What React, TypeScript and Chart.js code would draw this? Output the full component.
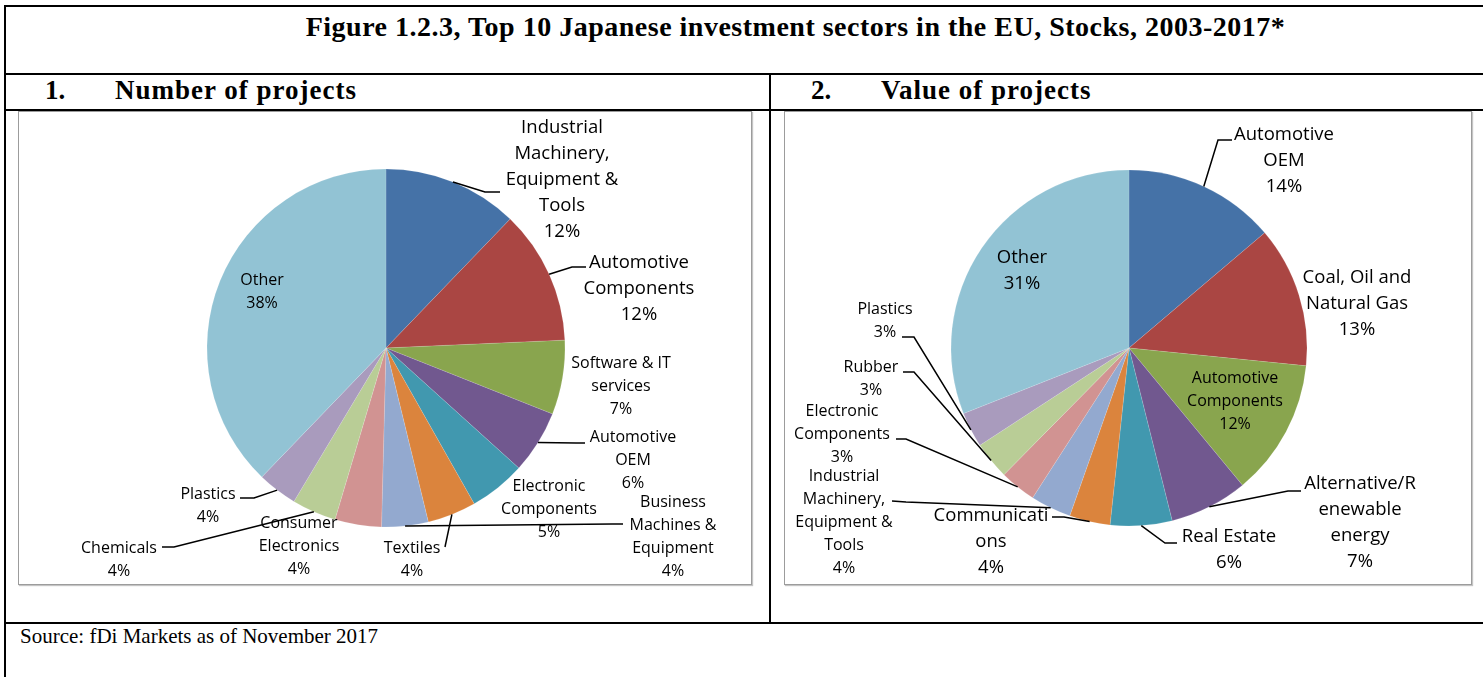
import React, { useEffect, useRef } from "react";
import { Chart, registerables } from "chart.js";

Chart.register(...registerables);

// ---------- data ----------
const SLICE_COLORS = [
  "#4572A7", "#AA4643", "#89A54E", "#71588F", "#4198AF", "#DB843D",
  "#93A9CF", "#D19392", "#B9CD96", "#A99BBD", "#92C3D4",
];

// Panel 1: Number of projects (share, %)
const PROJECT_SECTORS = [
  "Industrial Machinery, Equipment & Tools", "Automotive Components",
  "Software & IT services", "Automotive OEM", "Electronic Components",
  "Textiles", "Business Machines & Equipment", "Consumer Electronics",
  "Chemicals", "Plastics", "Other",
];
const PROJECT_SHARES = [12.2, 12.1, 6.7, 5.7, 5.1, 4.4, 4.2, 4.2, 4.0, 3.6, 37.8];
const PROJECT_LABEL_LINES = [
  ["Industrial", "Machinery,", "Equipment &", "Tools"],
  ["Automotive", "Components"],
  ["Software & IT", "services"],
  ["Automotive", "OEM"],
  ["Electronic", "Components"],
  ["Textiles"],
  ["Business", "Machines &", "Equipment"],
  ["Consumer", "Electronics"],
  ["Chemicals"],
  ["Plastics"],
  ["Other"],
];

// Panel 2: Value of projects (share, %)
const VALUE_SECTORS = [
  "Automotive OEM", "Coal, Oil and Natural Gas", "Automotive Components",
  "Alternative/Renewable energy", "Real Estate", "Communications",
  "Industrial Machinery, Equipment & Tools", "Electronic Components",
  "Rubber", "Plastics", "Other",
];
const VALUE_SHARES = [13.8, 12.8, 12.4, 7.1, 5.6, 3.7, 3.7, 3.3, 3.4, 3.2, 31.0];
const VALUE_LABEL_LINES = [
  ["Automotive", "OEM"],
  ["Coal, Oil and", "Natural Gas"],
  ["Automotive", "Components"],
  ["Alternative/R", "enewable", "energy"],
  ["Real Estate"],
  ["Communicati", "ons"],
  ["Industrial", "Machinery,", "Equipment &", "Tools"],
  ["Electronic", "Components"],
  ["Rubber"],
  ["Plastics"],
  ["Other"],
];

// ---------- label layout (offsets from pie centre, px) ----------
type LabelLayout = { at: [number, number]; big: boolean; elbow?: [number, number]; end?: [number, number] };

const PROJECT_LABEL_LAYOUT: LabelLayout[] = [
  { at: [176, -220], big: true, elbow: [99, -156], end: [114, -156] },
  { at: [253, -85], big: true, elbow: [186, -81], end: [200, -81] },
  { at: [235, 15], big: false },
  { at: [247, 89], big: false, elbow: [190, 95], end: [199, 95] },
  { at: [163, 138], big: false },
  { at: [26, 200], big: false, elbow: [59, 199], end: [59, 199] },
  { at: [287, 154], big: false, elbow: [226, 176], end: [237, 176] },
  { at: [-87, 175], big: false },
  { at: [-267, 200], big: false, elbow: [-212, 199], end: [-224, 199] },
  { at: [-178, 146], big: false, elbow: [-132, 150], end: [-146, 150] },
  { at: [-124, -68], big: false },
];

const VALUE_LABEL_LAYOUT: LabelLayout[] = [
  { at: [155, -213], big: true, elbow: [89, -208], end: [103, -208] },
  { at: [228, -70], big: true },
  { at: [106, 30], big: false },
  { at: [231, 136], big: true, elbow: [159, 143], end: [172, 143] },
  { at: [100, 189], big: true, elbow: [36, 195], end: [48, 195] },
  { at: [-138, 168], big: true, elbow: [-65, 169], end: [-77, 169] },
  { at: [-285, 128], big: false, elbow: [-223, 154], end: [-237, 153] },
  { at: [-287, 63], big: false, elbow: [-223, 91], end: [-233, 91] },
  { at: [-258, 19], big: false, elbow: [-215, 24], end: [-226, 24] },
  { at: [-244, -39], big: false, elbow: [-215, -11], end: [-227, -11] },
  { at: [-107, -90], big: true },
];

const LABEL_FONT = "'Open Sans', 'DejaVu Sans', sans-serif";

function makeLabelPlugin(lines: string[][], layout: LabelLayout[]) {
  return {
    id: "sliceLabels",
    afterDatasetsDraw(chart: any) {
      const ctx: CanvasRenderingContext2D = chart.ctx;
      const meta = chart.getDatasetMeta(0);
      const values = chart.data.datasets[0].data as number[];
      const total = values.reduce((a, b) => a + b, 0);
      ctx.save();
      meta.data.forEach((arc: any, i: number) => {
        const p = arc.getProps(["x", "y", "startAngle", "endAngle", "outerRadius"], true);
        const mid = (p.startAngle + p.endAngle) / 2;
        const ax = p.x + Math.cos(mid) * p.outerRadius;
        const ay = p.y + Math.sin(mid) * p.outerRadius;
        const L = layout[i];
        if (L.elbow && L.end) {
          ctx.beginPath();
          ctx.strokeStyle = "#000";
          ctx.lineWidth = 1.5;
          ctx.moveTo(ax, ay);
          ctx.lineTo(p.x + L.elbow[0], p.y + L.elbow[1]);
          ctx.lineTo(p.x + L.end[0], p.y + L.end[1]);
          ctx.stroke();
        }
        const size = L.big ? 18.5 : 16;
        const lh = L.big ? 26 : 23;
        ctx.font = `${size}px ${LABEL_FONT}`;
        ctx.fillStyle = "#000";
        ctx.textAlign = "center";
        ctx.textBaseline = "middle";
        const txt = [...lines[i], Math.round((values[i] / total) * 100) + "%"];
        txt.forEach((t, k) => ctx.fillText(t, p.x + L.at[0], p.y + L.at[1] + k * lh));
      });
      ctx.restore();
    },
  };
}

type PieProps = {
  left: number; top: number; width: number; height: number;
  cx: number; cy: number; radius: number;
  labels: string[]; values: number[]; lines: string[][]; layout: LabelLayout[];
};

function PiePanel(props: PieProps) {
  const ref = useRef<HTMLCanvasElement | null>(null);
  useEffect(() => {
    if (!ref.current) return;
    const { width, height, cx, cy } = props;
    const padX = 2 * cx - width;
    const padY = 2 * cy - height;
    const chart = new Chart(ref.current, {
      type: "pie",
      data: {
        labels: props.labels,
        datasets: [{
          data: props.values,
          backgroundColor: SLICE_COLORS,
          borderColor: "rgba(255,255,255,0.25)",
          borderWidth: 0.5,
        }],
      },
      options: {
        responsive: false,
        animation: false,
        devicePixelRatio: 1,
        radius: props.radius,
        layout: {
          padding: {
            left: padX > 0 ? padX : 0,
            right: padX < 0 ? -padX : 0,
            top: padY > 0 ? padY : 0,
            bottom: padY < 0 ? -padY : 0,
          },
        },
        plugins: { legend: { display: false }, tooltip: { enabled: false } },
      } as any,
      plugins: [makeLabelPlugin(props.lines, props.layout)],
    });
    return () => chart.destroy();
  }, []);
  return (
    <>
      <div
        style={{
          position: "absolute", left: props.left, top: props.top,
          width: props.width, height: props.height, boxSizing: "border-box",
          border: "1px solid #9c9c9c", boxShadow: "1px 1px 1px #c4c4c4", background: "#fff",
        }}
      />
      <canvas
        ref={ref}
        width={props.width}
        height={props.height}
        style={{ position: "absolute", left: props.left, top: props.top, width: props.width, height: props.height }}
      />
    </>
  );
}

const line = (l: number, t: number, w: number, h: number): React.CSSProperties => ({
  position: "absolute", left: l, top: t, width: w, height: h, background: "#000",
});

const serif = "'Liberation Serif', 'Times New Roman', serif";

export default function App() {
  return (
    <div style={{ position: "absolute", left: 0, top: 0, width: 1483, height: 677, overflow: "hidden", background: "#fff" }}>
      {/* table rules */}
      <div style={line(4, 5, 1479, 2)} />
      <div style={line(4, 5, 2, 672)} />
      <div style={line(4, 73, 1479, 2)} />
      <div style={line(4, 109, 1479, 2)} />
      <div style={line(769, 73, 2, 551)} />
      <div style={line(4, 622, 1479, 2)} />

      {/* title */}
      <div style={{ position: "absolute", left: 0, width: 1591, top: 13, textAlign: "center", font: `bold 28px/28px ${serif}`, letterSpacing: "0.5px", whiteSpace: "nowrap", color: "#000" }}>
        Figure 1.2.3, Top 10 Japanese investment sectors in the EU, Stocks, 2003-2017*
      </div>

      {/* panel headers */}
      <div style={{ position: "absolute", left: 45, top: 77, font: `bold 27px/27px ${serif}`, whiteSpace: "nowrap" }}>1.</div>
      <div style={{ position: "absolute", left: 115, top: 77, font: `bold 27px/27px ${serif}`, letterSpacing: "1px", whiteSpace: "nowrap" }}>Number of projects</div>
      <div style={{ position: "absolute", left: 811, top: 77, font: `bold 27px/27px ${serif}`, whiteSpace: "nowrap" }}>2.</div>
      <div style={{ position: "absolute", left: 881, top: 77, font: `bold 27px/27px ${serif}`, letterSpacing: "1px", whiteSpace: "nowrap" }}>Value of projects</div>

      <PiePanel
        left={18} top={111} width={734} height={474}
        cx={368} cy={237} radius={179}
        labels={PROJECT_SECTORS} values={PROJECT_SHARES}
        lines={PROJECT_LABEL_LINES} layout={PROJECT_LABEL_LAYOUT}
      />
      <PiePanel
        left={784} top={111} width={688} height={474}
        cx={345} cy={237} radius={178}
        labels={VALUE_SECTORS} values={VALUE_SHARES}
        lines={VALUE_LABEL_LINES} layout={VALUE_LABEL_LAYOUT}
      />

      {/* source */}
      <div style={{ position: "absolute", left: 20, top: 626, font: `21px/21px ${serif}`, whiteSpace: "nowrap" }}>
        Source: fDi Markets as of November 2017
      </div>
    </div>
  );
}
